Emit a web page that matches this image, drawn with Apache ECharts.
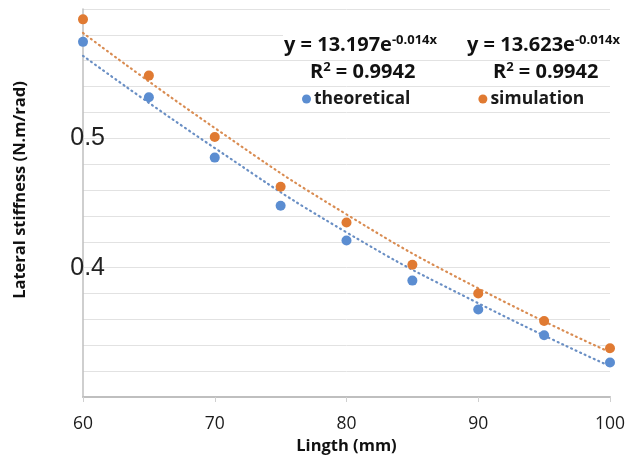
<!DOCTYPE html>
<html>
<head>
<meta charset="utf-8">
<script src="https://cdn.jsdelivr.net/npm/echarts@6/dist/echarts.min.js"></script>
<style>html,body{margin:0;padding:0;background:#fff}#c{width:626px;height:457px}</style>
</head>
<body>
<div id="c"></div>
<script>
var lengths = [60, 65, 70, 75, 80, 85, 90, 95, 100];
var theoretical = [0.5746, 0.5318, 0.4851, 0.4479, 0.4210, 0.3900, 0.3677, 0.3477, 0.3267];
var simulation  = [0.5920, 0.5485, 0.5010, 0.4626, 0.4349, 0.4023, 0.3800, 0.3587, 0.3377];
var trendX = [60, 70, 80, 90, 100];
var trendTheoretical = [0.5638, 0.4925, 0.4273, 0.3725, 0.3238];
var trendSimulation  = [0.5815, 0.5080, 0.4412, 0.3840, 0.3346];
var yTickLabels = ['0.4', '0.5'];
var xTickLabels = ['60', '70', '80', '90', '100'];

function pairs(xs, ys) { return xs.map(function (x, i) { return [x, ys[i]]; }); }

var blue = '#5B8DD1', orange = '#E07A32';
var richEq = {
  m: {fontFamily: 'Open Sans', fontWeight: 'bold', fontSize: 20, fill: '#111'},
  s: {fontFamily: 'Open Sans', fontWeight: 'bold', fontSize: 13, fill: '#111', verticalAlign: 'top', padding: [0, 0, 10, 0]}
};
var chart = echarts.init(document.getElementById('c'), null, {renderer: 'canvas'});
chart.setOption({
  animation: false,
  grid: {left: 83, right: 16, top: 9, bottom: 60, containLabel: false, outerBoundsMode: 'none'},
  legend: {
    data: ['theoretical', 'simulation'],
    left: 297, top: 85,
    icon: 'circle', itemWidth: 9, itemHeight: 9, itemGap: 68,
    textStyle: {fontFamily: 'Open Sans', fontWeight: 'bold', fontSize: 17.5, color: '#1a1a1a', padding: [0, 0, 0, -2]}
  },
  xAxis: {
    type: 'value', min: 60, max: 100, interval: 10,
    name: 'Lingth (mm)', nameLocation: 'middle', nameGap: 41,
    nameTextStyle: {fontFamily: 'Open Sans', fontWeight: 'bold', fontSize: 16.5, color: '#111'},
    axisLine: {lineStyle: {color: '#bfbfbf', width: 2}},
    axisTick: {show: true, length: 5, lineStyle: {color: '#d0d0d0'}},
    axisLabel: {margin: 18, fontFamily: 'Open Sans', fontSize: 17.5, fontWeight: 500, color: '#1a1a1a',
      formatter: function (v) { var s = String(Math.round(v)); return xTickLabels.indexOf(s) >= 0 ? s : ''; }},
    splitLine: {show: false}
  },
  yAxis: {
    type: 'value', min: 0.3, max: 0.6, interval: 0.02,
    axisLine: {show: true, lineStyle: {color: '#bfbfbf', width: 1.5}},
    axisTick: {show: false},
    axisLabel: {margin: -22, align: 'right', fontFamily: 'Liberation Sans', fontSize: 25, color: '#222',
      formatter: function (v) { var s = (Math.round(v * 100) / 100).toString(); return yTickLabels.indexOf(s) >= 0 ? s : ''; }},
    splitLine: {show: true, lineStyle: {color: '#e2e2e2', width: 1}}
  },
  graphic: [
    {type: 'rect', shape: {x: 283, y: 27, width: 343, height: 12}, style: {fill: '#fff'}, z: 50},
    {type: 'text', x: 20, y: 190, rotation: Math.PI / 2,
      style: {text: 'Lateral stiffness (N.m/rad)', fontFamily: 'Open Sans', fontWeight: 'bold', fontSize: 16.5, fill: '#111', align: 'center', verticalAlign: 'middle'}},
    {type: 'text', x: 284, y: 45, z: 60, style: {text: '{m|y = 13.197e}{s|-0.014x}', verticalAlign: 'middle', rich: richEq}},
    {type: 'text', x: 310, y: 72, z: 60, style: {text: '{m|R}{s|2}{m| = 0.9942}', verticalAlign: 'middle', rich: richEq}},
    {type: 'text', x: 467, y: 45, z: 60, style: {text: '{m|y = 13.623e}{s|-0.014x}', verticalAlign: 'middle', rich: richEq}},
    {type: 'text', x: 493, y: 72, z: 60, style: {text: '{m|R}{s|2}{m| = 0.9942}', verticalAlign: 'middle', rich: richEq}}
  ],
  series: [
    {name: 'theoretical trend', type: 'line', data: pairs(trendX, trendTheoretical), smooth: true, symbol: 'none', silent: true,
      lineStyle: {color: '#6A8FC4', width: 2.2, type: [1, 4], cap: 'round'}, z: 1},
    {name: 'simulation trend', type: 'line', data: pairs(trendX, trendSimulation), smooth: true, symbol: 'none', silent: true,
      lineStyle: {color: '#D98C52', width: 2.2, type: [1, 4], cap: 'round'}, z: 1},
    {name: 'theoretical', type: 'scatter', data: pairs(lengths, theoretical), symbolSize: 10, itemStyle: {color: blue, opacity: 1}, z: 3},
    {name: 'simulation', type: 'scatter', data: pairs(lengths, simulation), symbolSize: 10, itemStyle: {color: orange, opacity: 1}, z: 3}
  ]
});
</script>
</body>
</html>
